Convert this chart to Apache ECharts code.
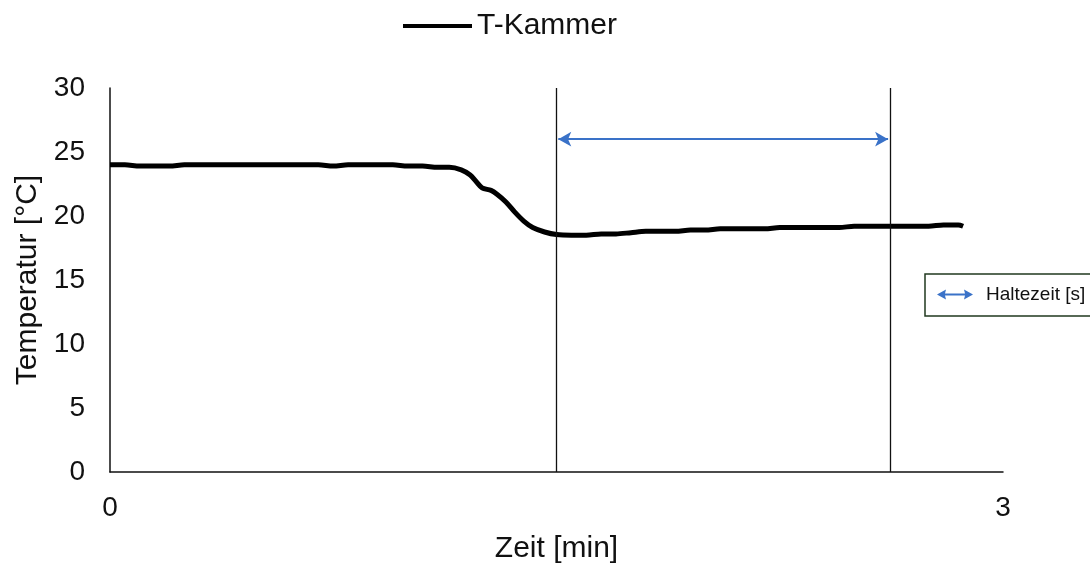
<!DOCTYPE html>
<html>
<head>
<meta charset="utf-8">
<script src="https://cdn.jsdelivr.net/npm/echarts@6/dist/echarts.min.js"></script>
<style>
html,body{margin:0;padding:0;background:#fff;}
#chart{width:1090px;height:574px;}
</style>
</head>
<body>
<div id="chart"></div>
<script>
// Data (time in minutes, temperature in °C)
const seriesName = 'T-Kammer';
const holdName = 'Haltezeit [s]';
const timeMin = [0.00,0.05,0.10,0.15,0.20,0.25,0.30,0.35,0.40,0.45,0.50,0.55,0.60,0.65,0.70,0.75,0.80,0.85,0.90,0.95,1.00,1.05,1.10,1.14,1.18,1.21,1.23,1.25,1.28,1.30,1.33,1.36,1.39,1.42,1.46,1.50,1.55,1.60,1.65,1.70,1.75,1.80,1.85,1.90,1.95,2.00,2.05,2.10,2.15,2.20,2.25,2.30,2.35,2.40,2.45,2.50,2.55,2.60,2.65,2.70,2.75,2.80,2.85,2.866];
const tempC = [24.0,24.0,23.9,23.9,23.9,24.0,24.0,24.0,24.0,24.0,24.0,24.0,24.0,24.0,24.0,23.9,24.0,24.0,24.0,24.0,23.9,23.9,23.8,23.8,23.6,23.2,22.7,22.2,22.0,21.7,21.1,20.3,19.6,19.1,18.75,18.55,18.5,18.5,18.6,18.6,18.7,18.8,18.8,18.8,18.9,18.9,19.0,19.0,19.0,19.0,19.1,19.1,19.1,19.1,19.1,19.2,19.2,19.2,19.2,19.2,19.2,19.3,19.3,19.2];
const holdStart = 1.5;
const holdEnd = 2.62;
const holdArrowY = 26;
const xTicks = [0, 3];
const yTicks = [0, 5, 10, 15, 20, 25, 30];

const font = '"Liberation Sans", Arial, sans-serif';
const ink = '#111';
const chart = echarts.init(document.getElementById('chart'));
const curve = timeMin.map((t, i) => [t, tempC[i]]);

chart.setOption({
  animation: false,
  backgroundColor: '#fff',
  textStyle: { fontFamily: font, color: ink },
  grid: { left: 110, right: 87, top: 88, bottom: 102, containLabel: false },
  legend: [
    {
      data: [{ name: seriesName, icon: 'rect' }],
      left: 398, top: 6,
      itemWidth: 69, itemHeight: 4, itemGap: 4,
      textStyle: { fontSize: 30, color: ink, fontFamily: font },
      selectedMode: false
    },
    {
      data: [{ name: holdName, icon: 'path://M0,5 L9,0 L8,4 L28,4 L27,0 L36,5 L27,10 L28,6 L8,6 L9,10 Z' }],
      left: 925, top: 274,
      padding: [11, 40, 12, 12],
      itemWidth: 36, itemHeight: 10,
      borderColor: '#20391f', borderWidth: 1.5,
      textStyle: { fontSize: 19, color: ink, fontFamily: font, padding: [0, 0, 0, 8] },
      selectedMode: false
    }
  ],
  xAxis: {
    type: 'value', min: xTicks[0], max: xTicks[xTicks.length - 1], interval: 3,
    name: 'Zeit [min]', nameLocation: 'middle', nameGap: 62,
    nameTextStyle: { fontSize: 30, color: ink, fontFamily: font },
    axisLine: { show: true, lineStyle: { color: '#111', width: 1.5 } },
    axisTick: { show: false },
    splitLine: { show: false },
    axisLabel: { fontSize: 28, color: ink, margin: 22, fontFamily: font }
  },
  yAxis: {
    type: 'value', min: yTicks[0], max: yTicks[yTicks.length - 1], interval: 5,
    name: 'Temperatur [°C]', nameLocation: 'middle', nameGap: 67,
    nameTextStyle: { fontSize: 30, color: ink, fontFamily: font },
    axisLine: { show: true, lineStyle: { color: '#111', width: 1.5 } },
    axisTick: { show: false },
    splitLine: { show: false },
    axisLabel: { fontSize: 28, color: ink, margin: 25, fontFamily: font }
  },
  series: [
    {
      name: seriesName, type: 'line', data: curve,
      showSymbol: false, smooth: 0.3,
      color: '#000',
      lineStyle: { color: '#000', width: 5 },
      markLine: {
        silent: true, symbol: ['none', 'none'],
        label: { show: false },
        lineStyle: { color: '#111', width: 1.3, type: 'solid' },
        data: [{ xAxis: holdStart }, { xAxis: holdEnd }]
      }
    },
    {
      name: holdName, type: 'line', data: [],
      color: '#3a72c8',
      lineStyle: { color: '#3a72c8', width: 2 },
      markLine: {
        silent: true, symbol: ['arrow', 'arrow'], symbolSize: [11, 13],
        label: { show: false },
        lineStyle: { color: '#3a72c8', width: 2, type: 'solid' },
        data: [[{ coord: [holdStart + 0.006, holdArrowY] }, { coord: [holdEnd - 0.006, holdArrowY] }]]
      }
    }
  ]
});
</script>
</body>
</html>
